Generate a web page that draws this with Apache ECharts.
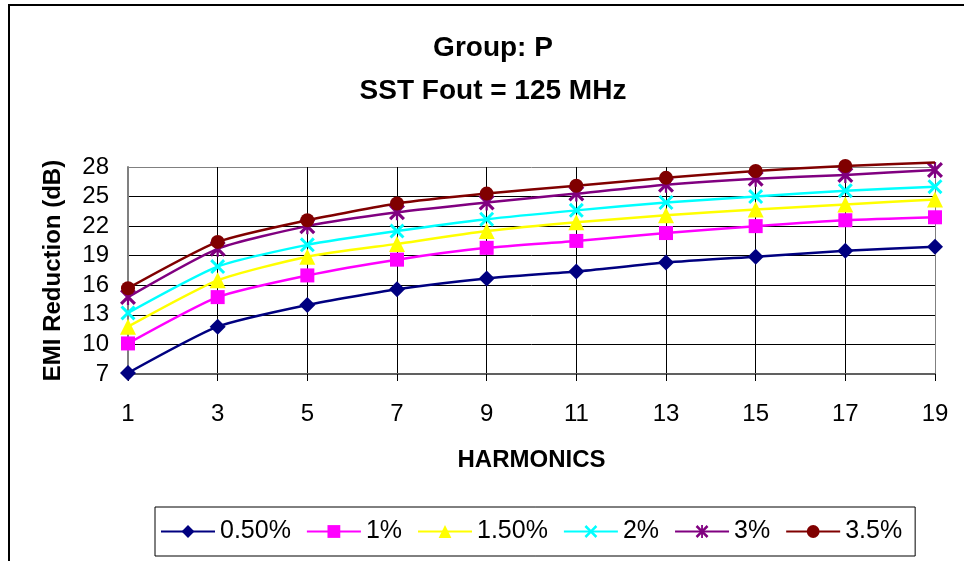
<!DOCTYPE html>
<html><head><meta charset="utf-8">
<script src="https://cdn.jsdelivr.net/npm/echarts@6/dist/echarts.min.js"></script>
<style>html,body{margin:0;padding:0;background:#fff}#c{width:964px;height:561px}</style>
</head><body><div id="c"></div>
<script>
const harmonics = ['1','3','5','7','9','11','13','15','17','19'];
const s050 = [7.1, 11.8, 14.0, 15.6, 16.7, 17.4, 18.3, 18.9, 19.5, 19.9];
const s100 = [10.1, 14.8, 17.0, 18.6, 19.8, 20.5, 21.3, 22.0, 22.6, 22.9];
const s150 = [11.8, 16.5, 18.9, 20.2, 21.5, 22.4, 23.1, 23.7, 24.2, 24.7];
const s200 = [13.2, 17.9, 20.1, 21.5, 22.7, 23.6, 24.4, 25.0, 25.6, 26.0];
const s300 = [14.8, 19.7, 22.0, 23.4, 24.4, 25.3, 26.2, 26.8, 27.2, 27.7];
const s350 = [15.7, 20.4, 22.6, 24.3, 25.3, 26.1, 26.9, 27.6, 28.1, 28.45];
const seriesNames = ['0.50%', '1%', '1.50%', '2%', '3%', '3.5%'];
const yMin = 7, yMax = 28, yStep = 3;

const allData = [s050, s100, s150, s200, s300, s350];
const colors = ['#000080', '#FF00FF', '#FFFF00', '#00FFFF', '#800080', '#800000'];
const xPath = 'path://M0,1.4L1.4,0L5,3.6L8.6,0L10,1.4L6.4,5L10,8.6L8.6,10L5,6.4L1.4,10L0,8.6L3.6,5Z';
const starPath = 'path://M0,1.4L1.4,0L5,3.6L8.6,0L10,1.4L6.4,5L10,8.6L8.6,10L5,6.4L1.4,10L0,8.6L3.6,5Z M4.3,0L5.7,0L5.7,10L4.3,10Z';
const symbols = ['diamond', 'rect', 'triangle', xPath, starPath, 'circle'];
const sizes = [16, 14, 16, 15, 16, 14];
const font = 'Liberation Sans, Arial, sans-serif';

const chart = echarts.init(document.getElementById('c'), null, {renderer: 'canvas'});
const gridColorsX = harmonics.map((_, i) => (i === harmonics.length - 1 ? '#808080' : '#000000'));
const nY = Math.round((yMax - yMin) / yStep) + 1;
const gridColorsY = Array.from({length: nY}, (_, i) => (i === nY - 1 ? '#808080' : '#000000'));

chart.setOption({
  animation: false,
  backgroundColor: '#ffffff',
  title: {
    text: 'Group: P\nSST Fout = 125 MHz',
    left: 488, textAlign: 'center', top: 22,
    textStyle: {fontFamily: font, fontWeight: 'bold', fontSize: 28, color: '#000', lineHeight: 43}
  },
  graphic: [{
    type: 'rect', silent: true, z: 100,
    shape: {x: 9, y: 5, width: 1000, height: 600},
    style: {fill: 'none', stroke: '#000', lineWidth: 2}
  }],
  legend: {
    data: seriesNames,
    left: 155, top: 507,
    padding: [12, 13, 12, 5],
    itemWidth: 54, itemHeight: 16, itemGap: 15,
    borderColor: '#000', borderWidth: 1,
    textStyle: {fontFamily: font, fontSize: 25, color: '#000'}
  },
  grid: {left: 128, right: 29, top: 167, bottom: 187, containLabel: false},
  xAxis: {
    type: 'category', data: harmonics, boundaryGap: false,
    name: 'HARMONICS', nameLocation: 'middle', nameGap: 74,
    nameTextStyle: {fontFamily: font, fontWeight: 'bold', fontSize: 24, color: '#000'},
    axisLine: {lineStyle: {color: '#606060', width: 2}},
    axisTick: {show: true, length: 7, lineStyle: {color: '#000'}},
    axisLabel: {fontFamily: font, fontSize: 24, color: '#000', margin: 28},
    splitLine: {show: true, lineStyle: {color: gridColorsX, width: 1}}
  },
  yAxis: {
    type: 'value', min: yMin, max: yMax, interval: yStep,
    name: 'EMI Reduction (dB)', nameLocation: 'middle', nameGap: 63,
    nameTextStyle: {fontFamily: font, fontWeight: 'bold', fontSize: 24, color: '#000'},
    axisLine: {show: true, lineStyle: {color: '#808080', width: 2}},
    axisTick: {show: false},
    axisLabel: {fontFamily: font, fontSize: 24, color: '#000', margin: 19},
    splitLine: {show: true, lineStyle: {color: gridColorsY, width: 1}}
  },
  series: allData.map((arr, i) => ({
    name: seriesNames[i], type: 'line', smooth: 0.2, clip: false,
    data: arr.map(v => (v > yMax + 0.3 ? {value: v, symbol: 'none'} : v)),
    symbol: symbols[i], symbolSize: sizes[i],
    itemStyle: {color: colors[i], borderWidth: 0},
    lineStyle: {color: colors[i], width: 2.5},
    z: 2 + i
  }))
});
</script></body></html>
